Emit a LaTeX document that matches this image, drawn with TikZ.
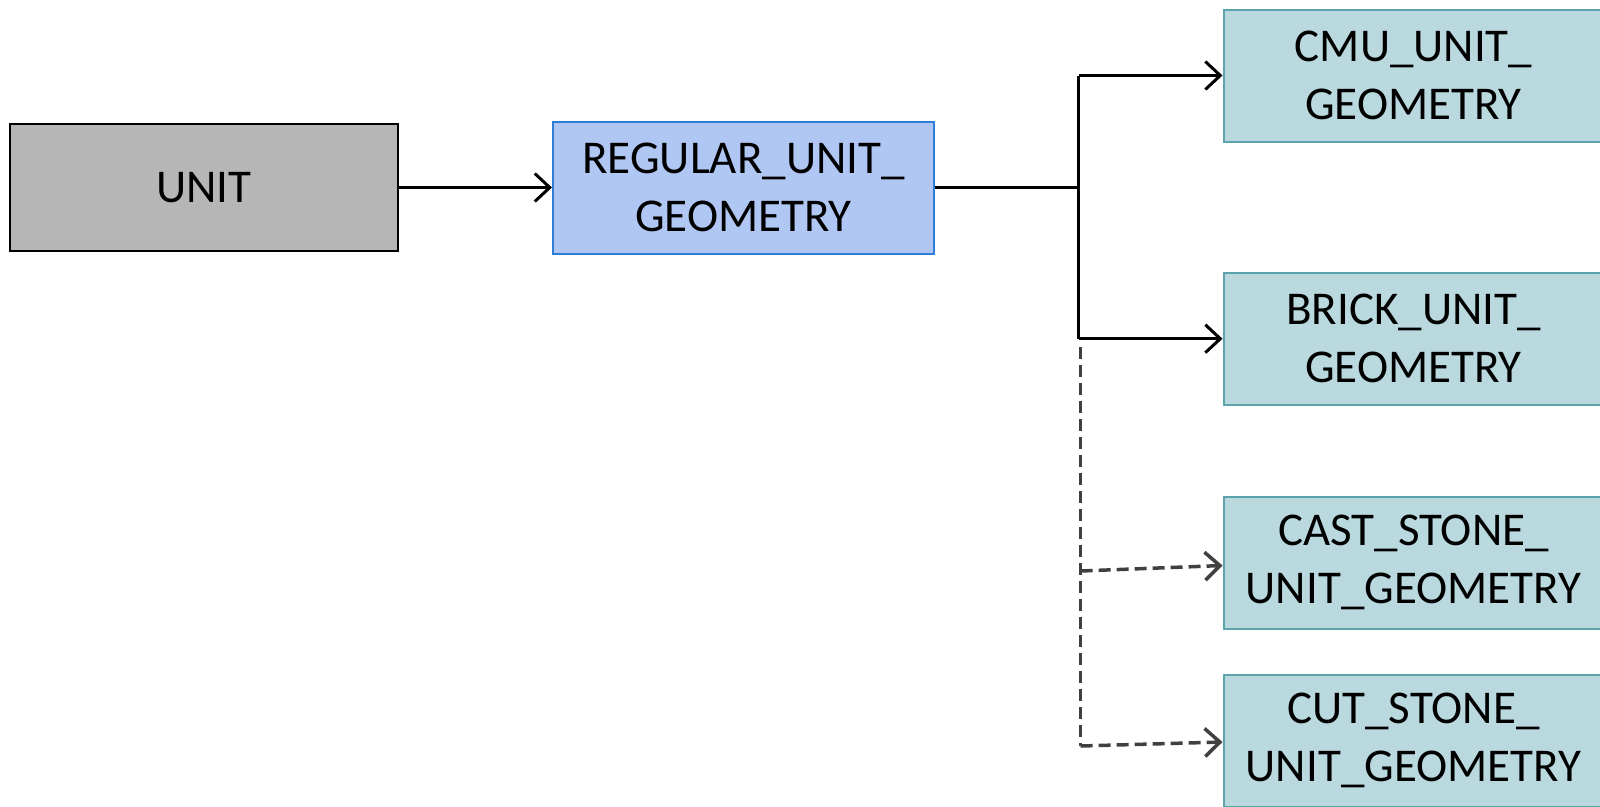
\documentclass[tikz,border=0pt]{standalone}
\usepackage{fontspec}
\setmainfont{Carlito}
\usetikzlibrary{arrows.meta}
\definecolor{grayedge}{HTML}{B6B6B6}
\definecolor{graymid}{HTML}{9E9E9E}
\definecolor{blueedge}{HTML}{B0C6F3}
\definecolor{bluemid}{HTML}{9AB5E8}
\definecolor{blueline}{HTML}{2E7ED8}
\definecolor{tealedge}{HTML}{BAD9DF}
\definecolor{tealmid}{HTML}{A2C7CF}
\definecolor{tealline}{HTML}{5BA3AD}
\definecolor{dashgray}{HTML}{404040}
\tikzset{
  basebox/.style={rectangle, inner sep=0pt, align=center, font=\fontsize{47}{58}\selectfont, line width=2pt},
  unitbox/.style={basebox, draw=black, left color=grayedge, middle color=graymid, right color=grayedge, minimum width=388pt, minimum height=127pt},
  regbox/.style={basebox, draw=blueline, left color=blueedge, middle color=bluemid, right color=blueedge, minimum width=381pt, minimum height=132pt},
  subbox/.style={basebox, draw=tealline, left color=tealedge, middle color=tealmid, right color=tealedge, minimum width=380pt, minimum height=132pt},
  conn/.style={line width=3pt, -{Straight Barb[length=15pt,width=28pt,line width=3pt]}},
  plain/.style={line width=3pt},
  dconn/.style={line width=3.5pt, dashgray, dash pattern=on 12pt off 6pt, -{Straight Barb[length=15pt,width=28pt,line width=3.5pt]}},
  dplain/.style={line width=3.5pt, dashgray, dash pattern=on 12pt off 6pt},
}
\begin{document}
\begin{tikzpicture}[x=1pt,y=-1pt]
\useasboundingbox (0,0) rectangle (1600,806);
\clip (0,0) rectangle (1600,806);
\node[unitbox] (unit) at (204,187.5) {UNIT};
\node[regbox] (reg) at (743.5,187.5) {REGULAR\_UNIT\_\\GEOMETRY};
\node[subbox] (cmu) at (1413.5,75.5) {CMU\_UNIT\_\\GEOMETRY};
\node[subbox] (brick) at (1413.5,338.7) {BRICK\_UNIT\_\\GEOMETRY};
\node[subbox] (cast) at (1413.5,562.5) {CAST\_STONE\_\\UNIT\_GEOMETRY};
\node[subbox] (cut) at (1413.5,740.5) {CUT\_STONE\_\\UNIT\_GEOMETRY};
\coordinate (j) at (1078.6,187.5);
\coordinate (jt) at (1078.6,75.5);
\coordinate (jb) at (1078.6,338.7);
\coordinate (ds) at (1080.6,347);
\coordinate (dc) at (1080.6,571);
\coordinate (de) at (1080.6,746);
\draw[conn] (unit.east) -- (reg.west);
\draw[plain] (reg.east) -- (j);
\draw[plain] (jt) -- (jb);
\draw[conn] (jt) -- (cmu.west);
\draw[conn] (jb) -- (brick.west);
\draw[dplain] (ds) -- (de);
\draw[dconn] (dc) -- ([yshift=-3pt]cast.west);
\draw[dconn] (de) -- ([yshift=-1.5pt]cut.west);
\end{tikzpicture}
\end{document}
